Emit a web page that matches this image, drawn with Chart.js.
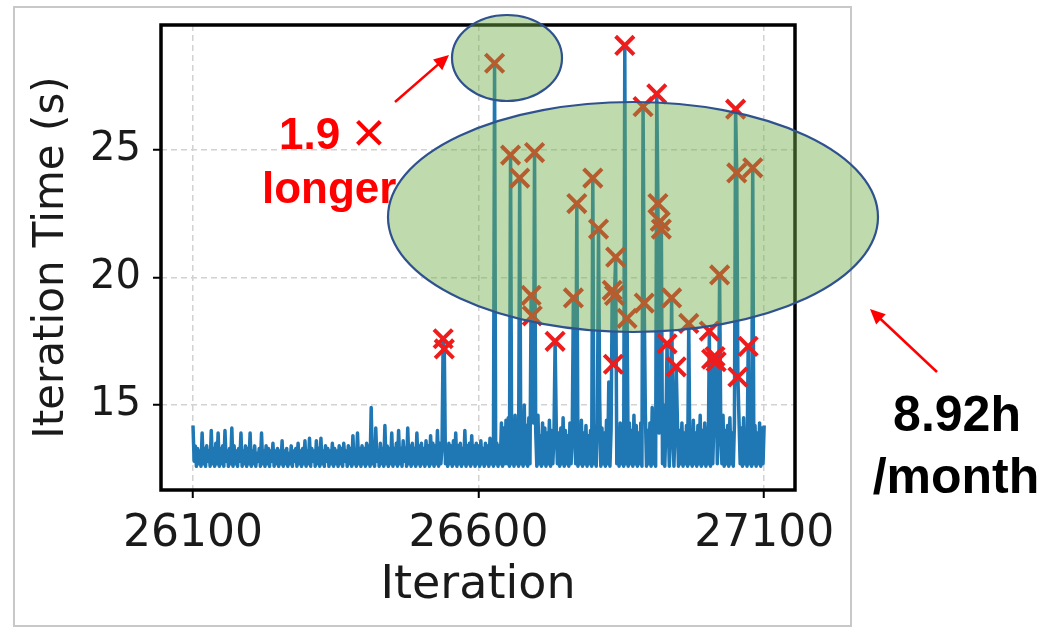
<!DOCTYPE html>
<html>
<head>
<meta charset="utf-8">
<script src="https://cdn.jsdelivr.net/npm/chart.js@4.4.1/dist/chart.umd.min.js"></script>
<style>
  html, body { margin: 0; padding: 0; background: #fff; }
</style>
</head>
<body>
<canvas id="iterChart" width="1050" height="630"></canvas>
<script>
// one sample every 2 iterations, 26100 .. 27100
const iterStart = 26100;
const iterStep = 2;
const xTicks = [26100, 26600, 27100];
const yTicks = [15, 20, 25];

// normal iteration time (s), the blue band
const baseTime = [
  14.2, 12.8, 13.4, 12.6, 13.3, 12.7, 13.2, 12.6, 13.9, 12.7, 13.3, 12.6, 13.4, 12.8, 13.2, 12.6, 14.0, 12.7, 13.3, 12.6, 13.5, 12.7, 13.9, 12.6, 13.3,
  12.7, 13.4, 12.6, 14.0, 12.8, 13.2, 12.6, 13.3, 12.7, 14.1, 12.6, 13.4, 12.7, 13.2, 12.6, 13.3, 12.8, 13.9, 12.6, 13.2, 12.7, 13.4, 12.6, 13.3, 12.7,
  13.9, 12.6, 13.2, 12.7, 13.4, 12.6, 13.1, 12.8, 13.3, 12.6, 13.9, 12.7, 13.2, 12.6, 13.4, 12.7, 13.3, 12.6, 13.2, 12.8, 13.5, 12.6, 13.2, 12.7, 13.3,
  12.6, 13.2, 12.7, 13.6, 12.6, 13.2, 12.7, 13.3, 12.6, 13.1, 12.7, 13.4, 12.6, 13.2, 12.8, 13.3, 12.6, 13.5, 12.7, 13.2, 12.6, 13.3, 12.7, 13.6, 12.6,
  13.2, 12.7, 13.7, 12.6, 13.3, 12.8, 13.2, 12.6, 13.6, 12.7, 13.3, 12.6, 13.7, 12.7, 13.2, 12.6, 13.4, 12.8, 13.3, 12.6, 13.2, 12.7, 13.5, 12.6, 13.3,
  12.7, 13.2, 12.6, 13.4, 12.7, 13.3, 12.6, 13.5, 12.8, 13.2, 12.6, 13.4, 12.7, 13.3, 12.6, 13.8, 12.7, 13.2, 12.6, 13.9, 12.7, 13.3, 12.6, 13.4, 12.7,
  13.3, 12.6, 13.5, 12.7, 13.4, 12.6, 14.9, 12.7, 13.3, 12.6, 14.1, 12.8, 13.2, 12.6, 13.5, 12.7, 13.3, 12.6, 14.2, 12.7, 13.4, 12.6, 13.3, 12.7, 13.9,
  12.6, 13.3, 12.7, 13.5, 12.6, 14.0, 12.7, 13.3, 12.6, 13.6, 12.8, 13.3, 12.6, 14.1, 12.7, 13.4, 12.6, 13.5, 12.7, 13.3, 12.6, 13.9, 12.7, 13.4, 12.6,
  13.5, 12.7, 13.3, 12.6, 13.6, 12.7, 13.4, 12.6, 13.8, 12.7, 13.5, 12.6, 13.4, 12.7, 14.0, 12.6, 13.5, 12.7, 13.3, 12.6, 13.7, 12.7, 13.4, 12.6, 13.5,
  12.7, 13.4, 12.6, 13.6, 12.7, 13.9, 12.6, 13.4, 12.7, 13.5, 12.6, 13.3, 12.7, 14.0, 12.6, 13.4, 12.7, 13.5, 12.6, 13.8, 12.7, 13.4, 12.6, 13.5, 12.7,
  13.4, 12.6, 13.6, 12.7, 13.3, 12.6, 13.5, 12.7, 13.4, 12.6, 13.7, 12.7, 13.5, 12.6, 13.4, 12.7, 13.5, 12.6, 13.4, 12.7, 14.3, 12.6, 14.1, 12.7, 14.4,
  12.7, 14.5, 12.6, 15.1, 12.7, 14.2, 12.6, 14.6, 12.7, 14.3, 12.6, 14.0, 12.7, 14.4, 12.6, 15.0, 12.7, 14.2, 12.6, 14.5, 12.7, 14.1, 12.6, 14.3, 12.7,
  14.0, 12.6, 14.6, 12.7, 13.8, 12.6, 14.3, 12.7, 14.1, 12.6, 13.9, 12.7, 14.4, 12.6, 14.0, 12.7, 13.8, 12.6, 14.2, 12.7, 13.9, 12.6, 14.1, 12.7, 14.5,
  12.6, 14.0, 12.7, 13.8, 12.6, 14.3, 12.7, 13.9, 12.6, 14.2, 12.7, 13.8, 12.6, 14.1, 12.7, 14.4, 12.6, 13.9, 12.7, 14.2, 12.6, 13.8, 12.7, 14.0, 12.6,
  14.2, 12.7, 13.9, 12.6, 14.3, 12.7, 15.3, 12.6, 14.1, 12.7, 13.9, 12.6, 14.4, 12.7, 15.9, 12.6, 14.0, 12.7, 14.2, 12.6, 14.5, 12.7, 14.0, 12.6, 14.3,
  12.7, 14.1, 12.6, 14.7, 12.7, 13.9, 12.6, 14.3, 12.7, 14.0, 12.6, 14.6, 12.7, 14.2, 12.6, 13.9, 12.7, 14.3, 12.6, 14.1, 12.7, 14.7, 12.6, 14.0, 12.7,
  14.3, 12.6, 14.9, 12.7, 14.1, 12.6, 14.4, 12.7, 13.9, 12.6, 14.2, 12.7, 15.0, 12.6, 14.1, 12.7, 14.4, 12.6, 13.9, 12.7, 14.3, 12.6, 14.1, 12.7, 14.5,
  12.6, 14.0, 12.7, 14.3, 12.6, 13.9, 12.7, 14.2, 12.6, 14.5, 12.7, 14.0, 12.6, 14.4, 12.7, 13.9, 12.6, 14.2, 12.7, 14.6, 12.6, 14.0, 12.7, 14.3, 12.6,
  14.1, 12.7, 14.5, 12.6, 13.9, 12.7, 14.3, 12.6, 14.0, 12.7, 14.4, 12.6, 14.1, 12.7, 14.6, 12.6, 14.0, 12.7, 14.2, 12.6, 14.5, 12.7, 13.9, 12.6, 14.3,
  12.7, 14.0, 12.6, 14.4, 12.7, 14.1, 12.6, 14.5, 12.7, 13.9, 12.6, 14.3, 12.7, 14.0, 12.6, 14.4, 12.7, 14.2, 12.6, 13.9, 12.7, 14.3, 12.6, 14.1, 12.7,
  14.2
];

// slow iterations, marked with x
const slowIter = [26538, 26540, 26628, 26656, 26672, 26692, 26694, 26698, 26734, 26766,
                  26772, 26800, 26810, 26834, 26836, 26838, 26840, 26856, 26860, 26888,
                  26890, 26912, 26914, 26918, 26920, 26930, 26938, 26946, 26968, 27004,
                  27008, 27014, 27016, 27022, 27050, 27052, 27054, 27072, 27080];
const slowTime = [17.6, 17.2, 28.4, 24.8, 23.9, 19.3, 18.5, 24.9, 17.5, 19.2,
                  22.9, 23.9, 21.9, 19.5, 16.6, 19.3, 20.8, 29.1, 18.4, 26.7,
                  19.0, 27.2, 22.9, 22.2, 21.9, 17.4, 19.2, 16.5, 18.2, 17.9,
                  16.8, 16.9, 16.7, 20.1, 26.6, 24.1, 16.1, 17.3, 24.3];

let linePoints = baseTime.map((t, k) => ({x: iterStart + k * iterStep, y: t}));
slowIter.forEach((it, k) => {
    linePoints[(it - iterStart) / iterStep].y = slowTime[k];
});
let slowPoints = slowIter.map((it, k) => ({x: it, y: slowTime[k]}));

const yTickFont = {family: 'DejaVu Sans', size: 40};
const xTickFont = {family: 'DejaVu Sans', size: 44};

function drawArrow(ctx, x1, y1, x2, y2) {
    let a = Math.atan2(y2 - y1, x2 - x1);
    let head = 15;
    ctx.save();
    ctx.strokeStyle = '#ff0000';
    ctx.fillStyle = '#ff0000';
    ctx.lineWidth = 2.5;
    ctx.beginPath();
    ctx.moveTo(x1, y1);
    ctx.lineTo(x2 - Math.cos(a) * head * 0.8, y2 - Math.sin(a) * head * 0.8);
    ctx.stroke();
    ctx.beginPath();
    ctx.moveTo(x2, y2);
    ctx.lineTo(x2 - head * Math.cos(a) + 7 * Math.sin(a), y2 - head * Math.sin(a) - 7 * Math.cos(a));
    ctx.lineTo(x2 - head * Math.cos(a) - 7 * Math.sin(a), y2 - head * Math.sin(a) + 7 * Math.cos(a));
    ctx.closePath();
    ctx.fill();
    ctx.restore();
}

function drawEllipse(ctx, cx, cy, rx, ry) {
    ctx.save();
    ctx.beginPath();
    ctx.ellipse(cx, cy, rx, ry, 0, 0, Math.PI * 2);
    ctx.fillStyle = 'rgba(112, 173, 71, 0.45)';
    ctx.fill();
    ctx.strokeStyle = '#2f528f';
    ctx.lineWidth = 2.2;
    ctx.stroke();
    ctx.restore();
}

const notesPlugin = {
    id: 'notes',
    beforeDraw(chart) {
        let ctx = chart.ctx;
        ctx.save();
        ctx.fillStyle = '#fff';
        ctx.fillRect(0, 0, chart.width, chart.height);
        // picture border
        ctx.strokeStyle = '#c8c8c8';
        ctx.lineWidth = 2;
        ctx.strokeRect(14, 7, 837, 619);
        ctx.restore();
    },
    afterDraw(chart) {
        let ctx = chart.ctx;
        let a = chart.chartArea;
        ctx.save();
        // axes box
        ctx.strokeStyle = '#000';
        ctx.lineWidth = 3.5;
        ctx.strokeRect(a.left, a.top, a.right - a.left, a.bottom - a.top);

        // red note
        ctx.fillStyle = '#ff0000';
        ctx.textAlign = 'left';
        ctx.textBaseline = 'alphabetic';
        ctx.font = 'bold 44px "Liberation Sans"';
        ctx.fillText('1.9', 279, 149);
        ctx.font = '58px "Liberation Sans"';
        ctx.fillText('×', 352, 152);
        ctx.font = 'bold 44px "Liberation Sans"';
        ctx.fillText('longer', 262, 203);

        // black note
        ctx.fillStyle = '#000';
        ctx.textAlign = 'center';
        ctx.font = 'bold 50px "Liberation Sans"';
        ctx.fillText('8.92h', 957, 431);
        ctx.fillText('/month', 956, 493);
        ctx.restore();

        drawArrow(ctx, 395, 102, 449, 55);
        drawArrow(ctx, 937, 372, 870, 309);

        drawEllipse(ctx, 507, 58, 55, 43);
        drawEllipse(ctx, 633, 217, 245, 115);
    }
};

let ctx = document.getElementById('iterChart').getContext('2d');
let iterChart = new Chart(ctx, {
    type: 'line',
    data: {
        datasets: [{
            label: 'slow',
            data: slowPoints,
            showLine: false,
            pointStyle: 'crossRot',
            pointRadius: 13,
            pointBorderWidth: 4,
            pointBorderColor: '#ee1c1c',
            pointBackgroundColor: '#ee1c1c',
            order: 0
        }, {
            label: 'time',
            data: linePoints,
            borderColor: '#1f77b4',
            borderWidth: 3.5,
            borderJoinStyle: 'round',
            pointRadius: 0,
            tension: 0,
            order: 1
        }]
    },
    options: {
        responsive: false,
        animation: false,
        layout: {padding: {left: 27, right: 255, top: 25, bottom: 12}},
        plugins: {legend: {display: false}, tooltip: {enabled: false}},
        scales: {
            x: {
                type: 'linear',
                min: 26044,
                max: 27154,
                afterBuildTicks: axis => { axis.ticks = xTicks.map(v => ({value: v})); },
                afterFit: axis => { axis.height = 128; axis.paddingLeft = 0; axis.paddingRight = 0; },
                ticks: {callback: v => String(v), font: xTickFont, color: '#1a1a1a', padding: 10, maxRotation: 0, autoSkip: false},
                grid: {color: '#d2d2d2', lineWidth: 1.5, tickColor: '#000', tickLength: 8, tickWidth: 2, tickBorderDash: []},
                border: {display: false, dash: [6, 4]},
                title: {display: true, text: 'Iteration', font: {family: 'DejaVu Sans', size: 46}, color: '#1a1a1a', padding: {top: 0, bottom: 4}}
            },
            y: {
                min: 11.67,
                max: 29.9,
                afterBuildTicks: axis => { axis.ticks = yTicks.map(v => ({value: v})); },
                afterFit: axis => { axis.width = 134; axis.paddingTop = 0; axis.paddingBottom = 0; },
                ticks: {callback: v => String(v), font: yTickFont, color: '#1a1a1a', padding: 12},
                grid: {color: '#d2d2d2', lineWidth: 1.5, tickColor: '#000', tickLength: 8, tickWidth: 2, tickBorderDash: []},
                border: {display: false, dash: [6, 4]},
                title: {display: true, text: 'Iteration Time (s)', font: {family: 'DejaVu Sans', size: 42}, color: '#1a1a1a', padding: {top: 0, bottom: 4}}
            }
        }
    },
    plugins: [notesPlugin]
});
</script>
</body>
</html>
